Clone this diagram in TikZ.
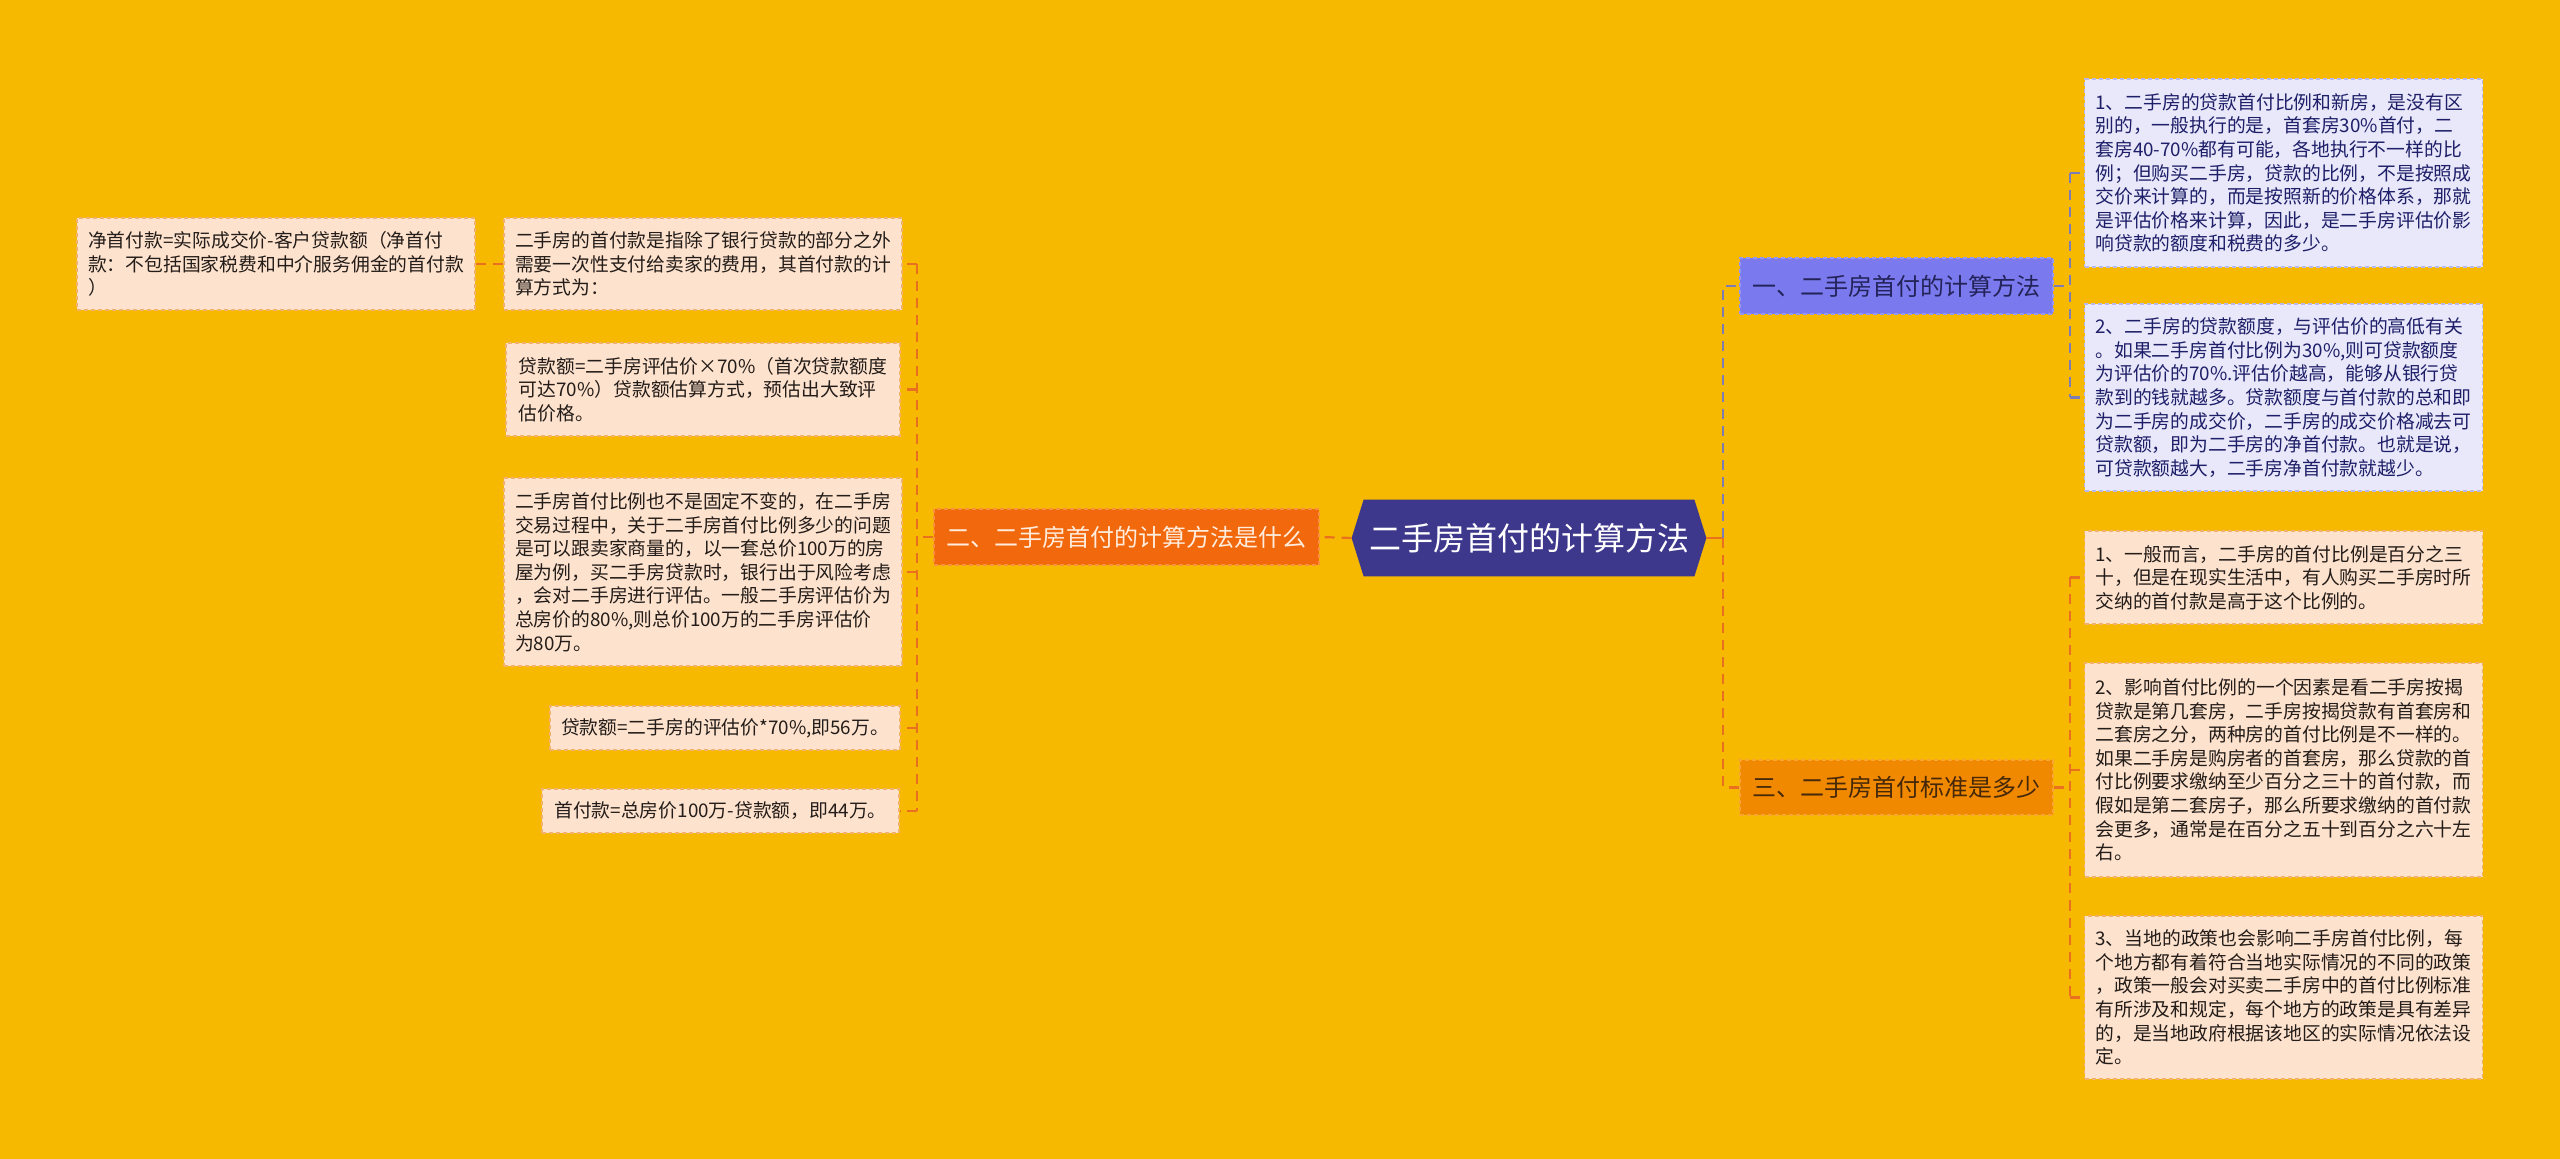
\documentclass[tikz,border=0pt]{standalone}
\usepackage{fontspec}
\newfontfamily\cjk{Noto Sans CJK SC}
\usetikzlibrary{calc,backgrounds}
\pgfdeclarelayer{bottom}
\pgfsetlayers{bottom,background,main}
\definecolor{bgc}{RGB}{246,185,0}
\definecolor{hexc}{RGB}{62,56,140}
\definecolor{lnode}{RGB}{242,104,12}
\definecolor{lnodeb}{RGB}{250,145,60}
\definecolor{lnodet}{RGB}{255,236,220}
\definecolor{ronec}{RGB}{122,122,238}
\definecolor{roneb}{RGB}{150,150,245}
\definecolor{ronet}{RGB}{35,35,90}
\definecolor{rtwoc}{RGB}{240,136,0}
\definecolor{rtwob}{RGB}{248,165,50}
\definecolor{rtwot}{RGB}{70,40,10}
\definecolor{peach}{RGB}{253,226,206}
\definecolor{peachb}{RGB}{242,178,110}
\definecolor{peacht}{RGB}{35,28,24}
\definecolor{lav}{RGB}{232,232,250}
\definecolor{lavb}{RGB}{185,185,238}
\definecolor{lavt}{RGB}{30,30,105}
\definecolor{oline}{RGB}{232,112,30}
\definecolor{bline}{RGB}{125,125,180}
\tikzset{
  leafbox/.style={draw, dash pattern=on 2pt off 1.5pt, line width=0.7pt, inner xsep=5.5pt, inner ysep=0pt, align=left, font=\cjk\fontsize{9.4}{11.8}\selectfont},
  peachbox/.style={leafbox, fill=peach, draw=peachb, text=peacht},
  lavbox/.style={leafbox, fill=lav, draw=lavb, text=lavt},
  topicbox/.style={draw, dash pattern=on 2pt off 1.5pt, line width=0.7pt, inner sep=0pt, font=\cjk\fontsize{12}{14}\selectfont},
  oconn/.style={draw=oline, line width=1.1pt, dash pattern=on 5pt off 3.5pt},
  bconn/.style={draw=bline, line width=1.1pt, dash pattern=on 5pt off 3.5pt},
  osolid/.style={draw=oline, line width=1.1pt},
}
\begin{document}
\begin{tikzpicture}[x=0.5pt,y=-0.5pt]
\begin{pgfonlayer}{bottom}
\fill[bgc] (0,0) rectangle (2560,1159);
\end{pgfonlayer}
\useasboundingbox (0,0) rectangle (2560,1159);

% central
\node[inner sep=0pt, minimum width=177pt, minimum height=38pt, text=white, font=\cjk\fontsize{16}{18}\selectfont] (C) at (1529,538) {二手房首付的计算方法};
\begin{pgfonlayer}{background}
\fill[hexc] ([xshift=6pt]C.north west) -- ([xshift=-6pt]C.north east) -- (C.east) -- ([xshift=-6pt]C.south east) -- ([xshift=6pt]C.south west) -- (C.west) -- cycle;
\end{pgfonlayer}

% left topic
\node[topicbox, fill=lnode, draw=lnodeb, text=lnodet, minimum width=192.5pt, minimum height=28pt] (L) at (1126.5,537) {二、二手房首付的计算方法是什么};

% left leaves
\node[peachbox, minimum width=197pt, minimum height=46pt] (L1) at (703,264) {二手房的首付款是指除了银行贷款的部分之外\\需要一次性支付给卖家的费用，其首付款的计\\算方式为：};
\node[peachbox, minimum width=197pt, minimum height=46.5pt] (L2) at (703,389.5) {贷款额=二手房评估价×70\%（首次贷款额度\\可达70\%）贷款额估算方式，预估出大致评\\估价格。};
\node[peachbox, minimum width=197pt, minimum height=94pt] (L3) at (703,572) {二手房首付比例也不是固定不变的，在二手房\\交易过程中，关于二手房首付比例多少的问题\\是可以跟卖家商量的，以一套总价100万的房\\屋为例，买二手房贷款时，银行出于风险考虑\\，会对二手房进行评估。一般二手房评估价为\\总房价的80\%,则总价100万的二手房评估价\\为80万。};
\node[peachbox, minimum width=174pt, minimum height=22pt] (L4) at (725,728) {贷款额=二手房的评估价*70\%,即56万。};
\node[peachbox, minimum width=178.5pt, minimum height=22pt] (L5) at (720.5,811) {首付款=总房价100万-贷款额，即44万。};
\node[peachbox, minimum width=196pt, minimum height=46pt] (LL) at (276,264) {净首付款=实际成交价-客户贷款额（净首付\\款：不包括国家税费和中介服务佣金的首付款\\）};

% right topics
\node[topicbox, fill=ronec, draw=roneb, text=ronet, minimum width=156.5pt, minimum height=28pt] (R1) at (1896.5,286) {一、二手房首付的计算方法};
\node[topicbox, fill=rtwoc, draw=rtwob, text=rtwot, minimum width=156.5pt, minimum height=27.5pt] (R2) at (1896.5,787.5) {三、二手房首付标准是多少};

% right leaves
\node[lavbox, minimum width=196.5pt, minimum height=94pt] (R1a) at (2283.5,173) {1、二手房的贷款首付比例和新房，是没有区\\别的，一般执行的是，首套房30\%首付，二\\套房40-70\%都有可能，各地执行不一样的比\\例；但购买二手房，贷款的比例，不是按照成\\交价来计算的，而是按照新的价格体系，那就\\是评估价格来计算，因此，是二手房评估价影\\响贷款的额度和税费的多少。};
\node[lavbox, minimum width=196.5pt, minimum height=93.5pt] (R1b) at (2283.5,397.5) {2、二手房的贷款额度，与评估价的高低有关\\。如果二手房首付比例为30\%,则可贷款额度\\为评估价的70\%.评估价越高，能够从银行贷\\款到的钱就越多。贷款额度与首付款的总和即\\为二手房的成交价，二手房的成交价格减去可\\贷款额，即为二手房的净首付款。也就是说，\\可贷款额越大，二手房净首付款就越少。};
\node[peachbox, minimum width=196.5pt, minimum height=46.5pt] (R2a) at (2283.5,577.5) {1、一般而言，二手房的首付比例是百分之三\\十，但是在现实生活中，有人购买二手房时所\\交纳的首付款是高于这个比例的。};
\node[peachbox, minimum width=196.5pt, minimum height=107pt] (R2b) at (2283.5,770) {2、影响首付比例的一个因素是看二手房按揭\\贷款是第几套房，二手房按揭贷款有首套房和\\二套房之分，两种房的首付比例是不一样的。\\如果二手房是购房者的首套房，那么贷款的首\\付比例要求缴纳至少百分之三十的首付款，而\\假如是第二套房子，那么所要求缴纳的首付款\\会更多，通常是在百分之五十到百分之六十左\\右。};
\node[peachbox, minimum width=196.5pt, minimum height=81.5pt] (R2c) at (2283.5,997.5) {3、当地的政策也会影响二手房首付比例，每\\个地方都有着符合当地实际情况的不同的政策\\，政策一般会对买卖二手房中的首付比例标准\\有所涉及和规定，每个地方的政策是具有差异\\的，是当地政府根据该地区的实际情况依法设\\定。};

% bus coordinates
\coordinate (busL) at (917,537);
\coordinate (busC) at (1723,538);
\coordinate (busRa) at (2070,286);
\coordinate (busRb) at (2070,787.5);

% left connectors
\draw[oconn] (C.west) -- (L.east);
\draw[oconn] (L.west) -- (busL);
\draw[oconn] (busL |- L1.east) -- (busL |- L5.east);
\foreach \n in {L1,L2,L3,L4,L5} { \draw[oconn] (busL |- \n.east) -- (\n.east); }
\draw[oconn] (L1.west) -- (LL.east);

% right connectors
\draw[osolid] (C.east) -- (busC);
\draw[bconn] (busC) -- (busC |- R1.west) -- (R1.west);
\draw[oconn] (busC) -- (busC |- R2.west) -- (R2.west);
\draw[bconn] (R1.east) -- (busRa);
\draw[bconn] (busRa |- R1a.west) -- (busRa |- R1b.west);
\foreach \n in {R1a,R1b} { \draw[bconn] (busRa |- \n.west) -- (\n.west); }
\draw[oconn] (R2.east) -- (busRb);
\draw[oconn] (busRb |- R2a.west) -- (busRb |- R2c.west);
\foreach \n in {R2a,R2b,R2c} { \draw[oconn] (busRb |- \n.west) -- (\n.west); }
\end{tikzpicture}
\end{document}
